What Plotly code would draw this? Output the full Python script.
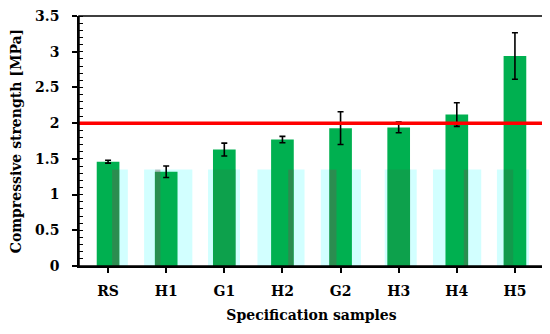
import plotly.graph_objects as go

categories = ["RS", "H1", "G1", "H2", "G2", "H3", "H4", "H5"]
strength = [1.46, 1.32, 1.63, 1.77, 1.93, 1.94, 2.12, 2.94]
strength_err = [0.02, 0.08, 0.09, 0.045, 0.23, 0.075, 0.165, 0.325]
band_level = [1.35, 1.35, 1.35, 1.35, 1.35, 1.35, 1.35, 1.35]
threshold = 2.0
y_ticks = [0, 0.5, 1, 1.5, 2, 2.5, 3, 3.5]

FONT = "DejaVu Serif"

# styling of the light cyan background band and the darker overlap strips
band_width = [0.5, 0.83, 0.55, 0.81, 0.69, 0.55, 0.83, 0.55]
band_offset = [-0.16, -0.38, -0.28, -0.43, -0.34, -0.24, -0.41, -0.31]
strip_width = [0.12, 0.09, 0.39, 0.09, 0.12, 0.39, 0.07, 0.16]
strip_offset = [0.07, -0.19, -0.19, 0.10, -0.19, -0.19, 0.12, -0.19]
STRONG = "rgba(120,80,80,0.36)"
SUBTLE = "rgba(90,70,60,0.14)"
strip_color = [STRONG, STRONG, SUBTLE, STRONG, STRONG, SUBTLE, STRONG, "rgba(90,70,60,0.2)"]

fig = go.Figure()
fig.add_trace(go.Bar(
    x=categories, y=band_level, width=band_width, offset=band_offset,
    marker=dict(color="#d2ffff", line=dict(width=0)), hoverinfo="skip",
    showlegend=False,
))
fig.add_trace(go.Bar(
    x=categories, y=strength, width=0.39,
    marker=dict(color="#00b050", line=dict(width=0)),
    error_y=dict(type="data", array=strength_err, color="black", thickness=1.6, width=3),
    showlegend=False,
))
fig.add_trace(go.Bar(
    x=categories, y=band_level, width=strip_width, offset=strip_offset,
    marker=dict(color=strip_color, line=dict(width=0)), hoverinfo="skip",
    showlegend=False,
))
fig.add_shape(type="line", xref="paper", x0=0, x1=1, yref="y", y0=threshold, y1=threshold,
              line=dict(color="#ff0000", width=3.5))
fig.add_shape(type="rect", xref="paper", yref="paper", x0=0, x1=1, y0=0, y1=1,
              line=dict(color="black", width=1.5), fillcolor="rgba(0,0,0,0)", layer="above")

# page body has an 8px margin, so the figure is sized to fit the visible window
fig.update_layout(
    width=542, height=326,
    margin=dict(l=71, r=6, t=8, b=68, autoexpand=False),
    paper_bgcolor="white", plot_bgcolor="white",
    barmode="overlay",
    font=dict(family=FONT, color="black", size=14),
    xaxis=dict(
        automargin=False,
        showline=True, linecolor="black", linewidth=1.5,
        ticks="outside", ticklen=5, tickcolor="black", tickwidth=1.5,
        tickfont=dict(family=FONT, size=14, weight="bold"),
        ticklabelstandoff=6,
        title=dict(text="<b>Specification samples</b>", font=dict(family=FONT, size=14), standoff=13),
        showgrid=False,
    ),
    yaxis=dict(
        automargin=False,
        range=[0, 3.5], tickvals=y_ticks,
        showline=True, linecolor="black", linewidth=1.5,
        ticks="outside", ticklen=5, tickcolor="black", tickwidth=1.5,
        minor=dict(dtick=0.1, ticks="inside", ticklen=4, tickcolor="black", tickwidth=1, showgrid=False),
        tickfont=dict(family=FONT, size=14, weight="bold"),
        ticklabelstandoff=10, ticklabeloverflow="allow",
        title=dict(text="<b>Compressive strength [MPa]</b>", font=dict(family=FONT, size=14), standoff=10),
        showgrid=False, zeroline=False,
    ),
)

fig.write_html("out.html")
